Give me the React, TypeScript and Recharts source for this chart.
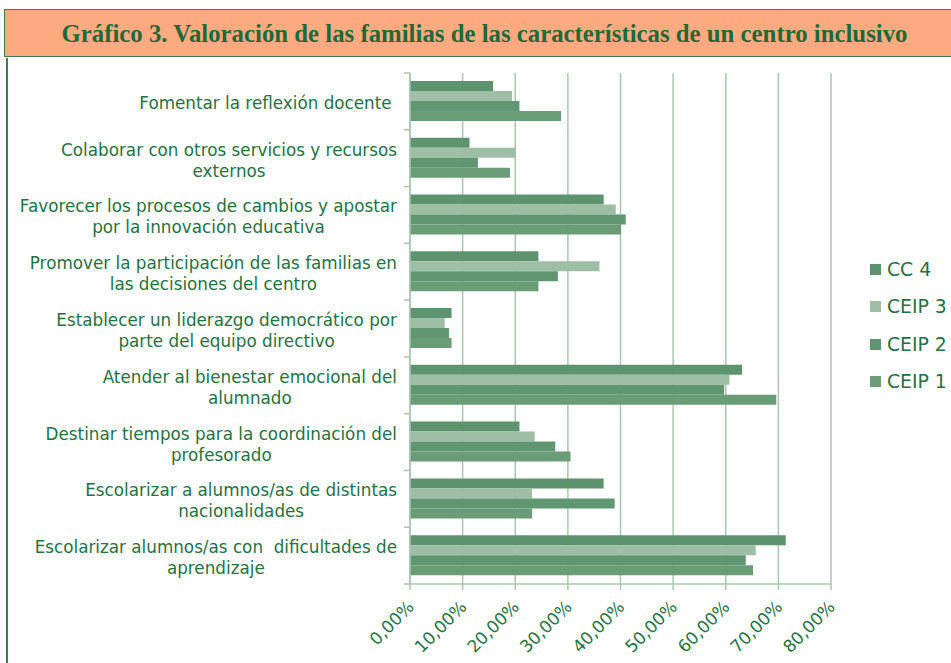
import React from "react";
import { BarChart, Bar, XAxis, YAxis, CartesianGrid, Legend } from "recharts";

const categories = [
  "Fomentar la reflexión docente ",
  "Colaborar con otros servicios y recursos\nexternos",
  "Favorecer los procesos de cambios y apostar\npor la innovación educativa",
  "Promover la participación de las familias en\nlas decisiones del centro",
  "Establecer un liderazgo democrático por\nparte del equipo directivo",
  "Atender al bienestar emocional del\nalumnado",
  "Destinar tiempos para la coordinación del\nprofesorado",
  "Escolarizar a alumnos/as de distintas\nnacionalidades",
  "Escolarizar alumnos/as con  dificultades de\naprendizaje",
];

const cc4 = [15.8, 11.3, 36.8, 24.4, 7.9, 63.1, 20.8, 36.8, 71.4];
const ceip3 = [19.4, 20.1, 39.1, 36.0, 6.6, 60.7, 23.7, 23.2, 65.7];
const ceip2 = [20.8, 12.9, 41.0, 28.1, 7.4, 59.7, 27.6, 38.9, 63.8];
const ceip1 = [28.7, 19.0, 40.1, 24.4, 7.9, 69.6, 30.5, 23.2, 65.2];

const seriesNames = ["CC 4", "CEIP 3", "CEIP 2", "CEIP 1"];
const xTicks = [0, 10, 20, 30, 40, 50, 60, 70, 80];
const title =
  "Gráfico 3. Valoración de las familias de las características de un centro inclusivo";

const data = categories.map((name, i) => ({
  name,
  cc4: cc4[i],
  ceip3: ceip3[i],
  ceip2: ceip2[i],
  ceip1: ceip1[i],
}));

const W = 951;
const H = 663;
const PLOT_TOP = 73;
const PLOT_BOTTOM = 584;
const AXIS_X = 410;
const TEXT_GREEN = "#237342";
const GRID = "#a9c7b1";
const LABEL_FONT = 16.8;
const FONT = "'DejaVu Sans', Verdana, sans-serif";

let ctx: CanvasRenderingContext2D | null = null;
function measure(s: string, font: string) {
  if (!ctx) ctx = document.createElement("canvas").getContext("2d");
  if (!ctx) return s.length * 9;
  ctx.font = font;
  return ctx.measureText(s).width;
}

function YTick(props: any) {
  const { x, y, payload, index } = props;
  const lines: string[] = String(payload.value).split("\n");
  const font = `${LABEL_FONT}px "DejaVu Sans"`;
  const maxW = Math.max(...lines.map((l) => measure(l, font)));
  const cx = x - maxW / 2;
  const lh = 21;
  const band = (PLOT_BOTTOM - PLOT_TOP) / categories.length;
  const y0 = y + 2 - ((lines.length - 1) * lh) / 2;
  const ax = x + 13;
  return (
    <g>
      <line x1={ax - 6} x2={ax} y1={y - band / 2} y2={y - band / 2} stroke={GRID} strokeWidth={1.5} />
      {index === categories.length - 1 && (
        <line x1={ax - 6} x2={ax} y1={y + band / 2} y2={y + band / 2} stroke={GRID} strokeWidth={1.5} />
      )}
      {lines.map((l, i) => (
        <text
          key={i}
          x={cx}
          y={y0 + i * lh}
          textAnchor="middle"
          dominantBaseline="central"
          fill={TEXT_GREEN}
          fontSize={LABEL_FONT}
          fontFamily={FONT}
          style={{ whiteSpace: "pre" }}
        >
          {l}
        </text>
      ))}
    </g>
  );
}

function XTick(props: any) {
  const { x, y, payload } = props;
  const label = `${Number(payload.value).toFixed(2).replace(".", ",")}%`;
  const ax = x + 5;
  const ay = y + 16;
  return (
    <text
      x={ax}
      y={ay}
      transform={`rotate(-45 ${ax} ${ay})`}
      textAnchor="end"
      fill={TEXT_GREEN}
      fontSize={17}
      fontFamily={FONT}
    >
      {label}
    </text>
  );
}

function LegendContent(props: any) {
  const payload: any[] = props.payload || [];
  const ordered = seriesNames
    .map((n) => payload.find((p) => p.value === n))
    .filter(Boolean);
  return (
    <div style={{ fontFamily: FONT, fontSize: 18.8, color: TEXT_GREEN }}>
      {ordered.map((p: any, i: number) => (
        <div key={i} style={{ display: "flex", alignItems: "center", height: 37.3 }}>
          <span
            style={{
              display: "inline-block",
              width: 11,
              height: 11,
              background: p.color,
              marginRight: 6,
            }}
          />
          <span style={{ whiteSpace: "nowrap" }}>{p.value}</span>
        </div>
      ))}
    </div>
  );
}

export default function App() {
  return (
    <div style={{ position: "relative", width: W, height: H, overflow: "hidden", background: "#fff" }}>
      <style>{`body{margin:0}`}</style>
      <div
        style={{
          position: "absolute",
          left: 4,
          top: 9,
          width: 980,
          height: 46,
          background: "#fdaa80",
          border: "1.5px solid #3f7d50",
        }}
      />
      <div
        style={{
          position: "absolute",
          left: 0,
          top: 9,
          width: 969,
          height: 49,
          lineHeight: "49px",
          textAlign: "center",
          fontFamily: "'Liberation Serif', 'Times New Roman', serif",
          fontWeight: "bold",
          fontSize: 24.8,
          color: "#1d6a38",
          whiteSpace: "nowrap",
        }}
      >
        {title}
      </div>
      <div
        style={{
          position: "absolute",
          left: 6,
          top: 58,
          width: 1.5,
          height: H - 58,
          background: "#3f7d50",
        }}
      />
      <div style={{ position: "absolute", left: 0, top: 0 }}>
        <BarChart
          width={W}
          height={H}
          layout="vertical"
          data={data}
          margin={{ top: PLOT_TOP, right: W - 831, bottom: 0, left: 0 }}
          barCategoryGap="14%"
          barGap={0}
        >
          <CartesianGrid horizontal={false} stroke={GRID} strokeWidth={1.5} />
          <XAxis
            type="number"
            domain={[0, 80]}
            ticks={xTicks}
            interval={0}
            height={H - PLOT_BOTTOM}
            axisLine={{ stroke: GRID, strokeWidth: 1.5 }}
            tickLine={{ stroke: GRID, strokeWidth: 1.5 }}
            tickSize={6}
            tick={<XTick />}
          />
          <YAxis
            type="category"
            dataKey="name"
            width={AXIS_X}
            axisLine={{ stroke: GRID, strokeWidth: 1.5 }}
            tickLine={false}
            tickSize={0}
            tickMargin={13}
            interval={0}
            tick={<YTick />}
          />
          <Legend
            layout="horizontal"
            align="center"
            verticalAlign="middle"
            wrapperStyle={{ left: 870, top: 251, width: 81, height: 150 }}
            content={<LegendContent />}
          />
          <Bar dataKey="cc4" name={seriesNames[0]} fill="#5e9370" isAnimationActive={false} />
          <Bar dataKey="ceip3" name={seriesNames[1]} fill="#9fbea6" isAnimationActive={false} />
          <Bar dataKey="ceip2" name={seriesNames[2]} fill="#619672" isAnimationActive={false} />
          <Bar dataKey="ceip1" name={seriesNames[3]} fill="#6a9c78" isAnimationActive={false} />
        </BarChart>
      </div>
    </div>
  );
}
